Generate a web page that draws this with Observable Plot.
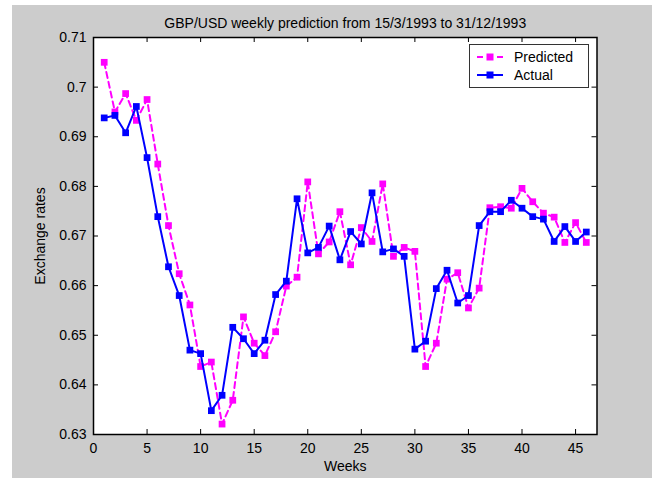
<!DOCTYPE html>
<html>
<head>
<meta charset="utf-8">
<script src="https://cdn.jsdelivr.net/npm/d3@7"></script>
<script src="https://cdn.jsdelivr.net/npm/@observablehq/plot@0.6"></script>
<style>
  html, body { margin: 0; padding: 0; background: #ffffff; }
  #wrap { position: relative; width: 652px; height: 478px; overflow: hidden; }
  #chart { position: absolute; left: 12px; top: 5px; }
  #chart svg { display: block; }
  #legend {
    position: absolute; left: 469px; top: 44px; width: 118px; height: 42px;
    background: #ffffff; border: 1px solid #333333;
    font-family: "Liberation Sans", Arial, sans-serif; font-size: 14px; color: #000;
  }
  #legend .row { position: absolute; left: 0; height: 18px; display: flex; align-items: center; }
  #legend svg { margin-left: 6px; margin-right: 10px; }
</style>
</head>
<body>
<div id="wrap">
  <div id="chart"></div>
  <div id="legend"></div>
</div>
<script>
const titleText = "GBP/USD weekly prediction from 15/3/1993 to 31/12/1993";
const xLabel = "Weeks";
const yLabel = "Exchange rates";
const seriesNames = ["Predicted", "Actual"];
const seriesColors = ["#ff00ff", "#0000ff"];

const weeks = [1,2,3,4,5,6,7,8,9,10,11,12,13,14,15,16,17,18,19,20,21,22,23,
  24,25,26,27,28,29,30,31,32,33,34,35,36,37,38,39,40,41,42,43,44,45,46];

const predicted = [0.7050,0.6950,0.6987,0.6933,0.6975,0.6845,0.6721,0.6624,0.6561,0.6437,
  0.6446,0.6321,0.6369,0.6537,0.6484,0.6459,0.6507,0.6599,0.6617,0.6809,
  0.6664,0.6688,0.6749,0.6642,0.6717,0.6689,0.6805,0.6659,0.6677,0.6669,
  0.6437,0.6484,0.6613,0.6626,0.6555,0.6595,0.6757,0.6759,0.6756,0.6796,
  0.6769,0.6746,0.6738,0.6687,0.6727,0.6687];

const actual = [0.6938,0.6943,0.6908,0.6961,0.6858,0.6739,0.6638,0.6580,0.6470,0.6463,
  0.6348,0.6379,0.6516,0.6493,0.6463,0.6490,0.6582,0.6609,0.6775,0.6666,
  0.6677,0.6720,0.6652,0.6709,0.6684,0.6787,0.6668,0.6674,0.6659,0.6472,
  0.6488,0.6594,0.6631,0.6565,0.6580,0.6721,0.6749,0.6749,0.6772,0.6756,
  0.6739,0.6734,0.6689,0.6719,0.6689,0.6708];

const xTicks = [0,5,10,15,20,25,30,35,40,45];
const yTicks = [0.63,0.64,0.65,0.66,0.67,0.68,0.69,0.70,0.71];
const xDomain = [0, 47];
const yDomain = [0.63, 0.71];

const predData = weeks.map((w, i) => ({week: w, value: predicted[i]}));
const actData = weeks.map((w, i) => ({week: w, value: actual[i]}));

const W = 640, H = 473;
const mL = 81, mR = 55.5, mT = 32, mB = 44;
const innerW = W - mL - mR, innerH = H - mT - mB;
const tickLen = 5;
const font = "Liberation Sans, Arial, sans-serif";

const plot = Plot.plot({
  width: W,
  height: H,
  marginLeft: mL, marginRight: mR, marginTop: mT, marginBottom: mB,
  style: {background: "#cccccc", fontFamily: font, fontSize: "14px", color: "#000"},
  x: {domain: xDomain, label: null},
  y: {domain: yDomain, label: null},
  marks: [
    Plot.frame({fill: "#ffffff", stroke: null}),
    // inward ticks on all four sides
    Plot.tickX(xTicks, {x: d => d, insetTop: innerH - tickLen, stroke: "#000"}),
    Plot.tickX(xTicks, {x: d => d, insetBottom: innerH - tickLen, stroke: "#000"}),
    Plot.tickY(yTicks, {y: d => d, insetRight: innerW - tickLen, stroke: "#000"}),
    Plot.tickY(yTicks, {y: d => d, insetLeft: innerW - tickLen, stroke: "#000"}),
    Plot.axisX({ticks: xTicks, tickSize: 0, tickPadding: 9, label: null, fontSize: 14, tickFormat: d => String(d)}),
    Plot.axisY({ticks: yTicks, tickSize: 0, tickPadding: 7, label: null, fontSize: 14, tickFormat: d => String(+d.toFixed(2))}),
    Plot.line(predData, {x: "week", y: "value", stroke: seriesColors[0], strokeWidth: 2, strokeDasharray: "6,4"}),
    Plot.dot(predData, {x: "week", y: "value", symbol: "square", r: 3.8, fill: seriesColors[0], stroke: null}),
    Plot.line(actData, {x: "week", y: "value", stroke: seriesColors[1], strokeWidth: 2}),
    Plot.dot(actData, {x: "week", y: "value", symbol: "square", r: 3.8, fill: seriesColors[1], stroke: null}),
    Plot.frame({stroke: "#000", strokeWidth: 1.5}),
    Plot.text([titleText], {text: d => d, frameAnchor: "top", dy: -19, fontSize: 14, fill: "#000"}),
    Plot.text([xLabel], {text: d => d, frameAnchor: "bottom", dy: 36, fontSize: 14, fill: "#000"}),
    Plot.text([yLabel], {text: d => d, frameAnchor: "left", textAnchor: "middle", dx: -53, rotate: -90, fontSize: 14, fill: "#000"})
  ]
});
document.getElementById("chart").appendChild(plot);

// Legend
const legend = document.getElementById("legend");
seriesNames.forEach((name, i) => {
  const row = document.createElement("div");
  row.className = "row";
  row.style.top = (3 + i * 18) + "px";
  const ns = "http://www.w3.org/2000/svg";
  const s = document.createElementNS(ns, "svg");
  s.setAttribute("width", 28); s.setAttribute("height", 10);
  const ln = document.createElementNS(ns, "line");
  ln.setAttribute("x1", 1); ln.setAttribute("x2", 27); ln.setAttribute("y1", 5); ln.setAttribute("y2", 5);
  ln.setAttribute("stroke", seriesColors[i]); ln.setAttribute("stroke-width", 2);
  if (i === 0) ln.setAttribute("stroke-dasharray", "6,4");
  const r = document.createElementNS(ns, "rect");
  r.setAttribute("x", 10.5); r.setAttribute("y", 1.5); r.setAttribute("width", 7); r.setAttribute("height", 7);
  r.setAttribute("fill", seriesColors[i]);
  s.appendChild(ln); s.appendChild(r);
  const t = document.createElement("span");
  t.textContent = name;
  row.appendChild(s); row.appendChild(t);
  legend.appendChild(row);
});
</script>
</body>
</html>
